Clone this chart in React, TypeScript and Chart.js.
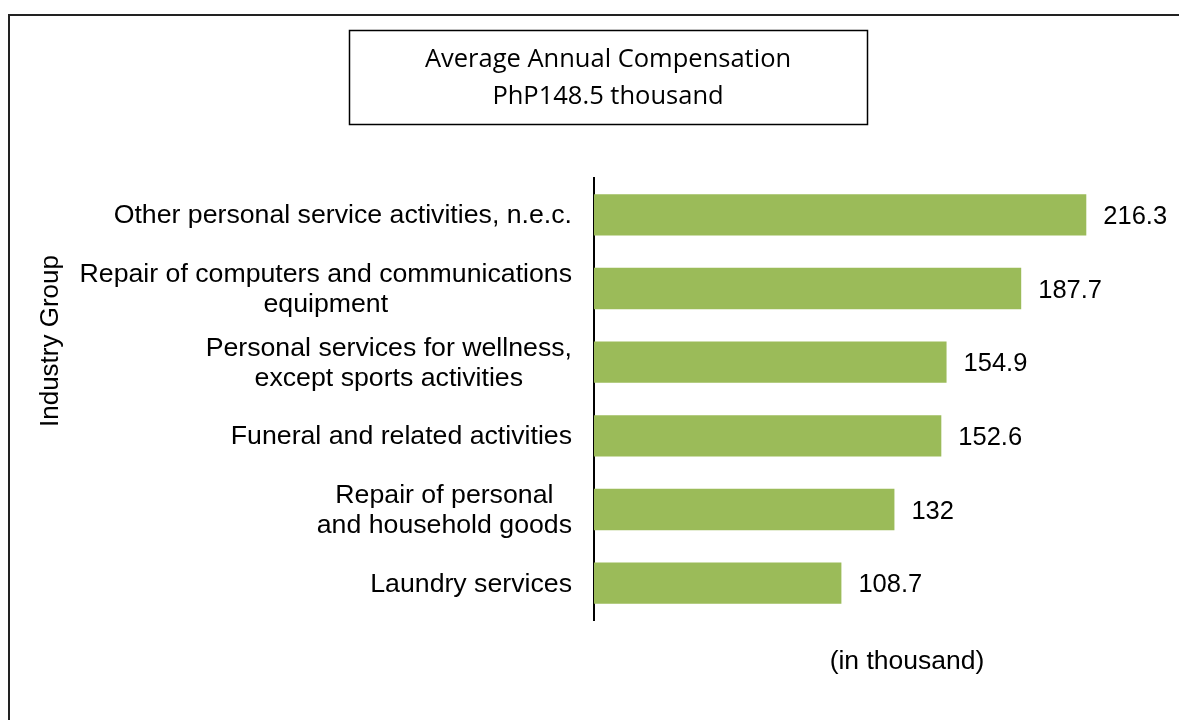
import React, { useEffect, useRef } from "react";
import { Chart, registerables } from "chart.js";

Chart.register(...registerables);

const categories: string[][] = [
  ["Other personal service activities, n.e.c."],
  ["Repair of computers and communications", "equipment"],
  ["Personal services for wellness,", "except sports activities"],
  ["Funeral and related activities"],
  ["Repair of personal", "and household goods"],
  ["Laundry services"],
];
const values: number[] = [216.3, 187.7, 154.9, 152.6, 132, 108.7];
const titleLines: string[] = ["Average Annual Compensation", "PhP148.5 thousand"];
const yTitle = "Industry Group";
const xTitle = "(in thousand)";

const SANS = '"Liberation Sans", Arial, sans-serif';

const decorPlugin = {
  id: "decor",
  afterDraw(chart: any) {
    const { ctx } = chart;
    const xs = chart.scales.x;
    const ys = chart.scales.y;
    ctx.save();
    // outer frame
    ctx.strokeStyle = "#222";
    ctx.lineWidth = 2;
    ctx.strokeRect(9, 15, 1300, 900);
    // title box
    ctx.lineWidth = 1.5;
    ctx.strokeStyle = "#000";
    ctx.strokeRect(349.5, 30.5, 518, 94);
    ctx.fillStyle = "#000";
    ctx.font = '25.5px "Open Sans", Lato, sans-serif';
    ctx.textAlign = "center";
    ctx.textBaseline = "middle";
    ctx.fillText(titleLines[0], 608, 60);
    ctx.fillText(titleLines[1], 608, 97);

    // category labels
    ctx.font = "26.7px " + SANS;
    ctx.fillStyle = "#000";
    const right = chart.chartArea.left - 22;
    const lh = 30;
    categories.forEach((lines, i) => {
      const cy = ys.getPixelForValue(i);
      const bw = Math.max(...lines.map((l) => ctx.measureText(l).width));
      const cx = right - bw / 2;
      const y0 = cy - ((lines.length - 1) * lh) / 2 + 1;
      lines.forEach((l, j) => {
        ctx.textAlign = "center";
        ctx.fillText(l, cx, y0 + j * lh);
      });
    });

    // value labels
    ctx.font = "25.5px " + SANS;
    ctx.textAlign = "left";
    values.forEach((v, i) => {
      const px = xs.getPixelForValue(v);
      const py = ys.getPixelForValue(i);
      ctx.fillText(String(v), px + 17, py + 2);
    });

    // axis titles
    ctx.font = "26.5px " + SANS;
    ctx.textAlign = "center";
    ctx.fillText(xTitle, 907, 662);
    ctx.save();
    ctx.translate(51, 341);
    ctx.rotate(-Math.PI / 2);
    ctx.font = "26px " + SANS;
    ctx.fillText(yTitle, 0, 0);
    ctx.restore();
    ctx.restore();
  },
};

export default function App() {
  const ref = useRef<HTMLCanvasElement>(null);
  useEffect(() => {
    document.body.style.margin = "0";
    document.body.style.overflow = "hidden";
    const chart = new Chart(ref.current!, {
      type: "bar",
      data: {
        labels: categories.map((c) => c.join(" ")),
        datasets: [
          {
            data: values,
            backgroundColor: "#9BBB59",
            borderWidth: 0,
            barPercentage: 0.56,
            categoryPercentage: 1,
          },
        ],
      },
      options: {
        indexAxis: "y",
        animation: false,
        responsive: false,
        layout: { padding: { left: 594, top: 178, right: 16, bottom: 100 } },
        plugins: { legend: { display: false }, tooltip: { enabled: false }, title: { display: false } },
        scales: {
          x: { display: false, min: 0, max: 250 },
          y: {
            display: true,
            ticks: { display: false },
            grid: { display: false, drawTicks: false },
            border: { display: true, color: "#000", width: 2 },
            afterFit: (s: any) => {
              s.width = 0;
            },
          },
        },
      },
      plugins: [decorPlugin],
    });
    return () => chart.destroy();
  }, []);
  return (
    <div style={{ position: "fixed", left: 0, top: 0, width: 1179, height: 720, background: "#fff" }}>
      <canvas ref={ref} width={1179} height={720} />
    </div>
  );
}
